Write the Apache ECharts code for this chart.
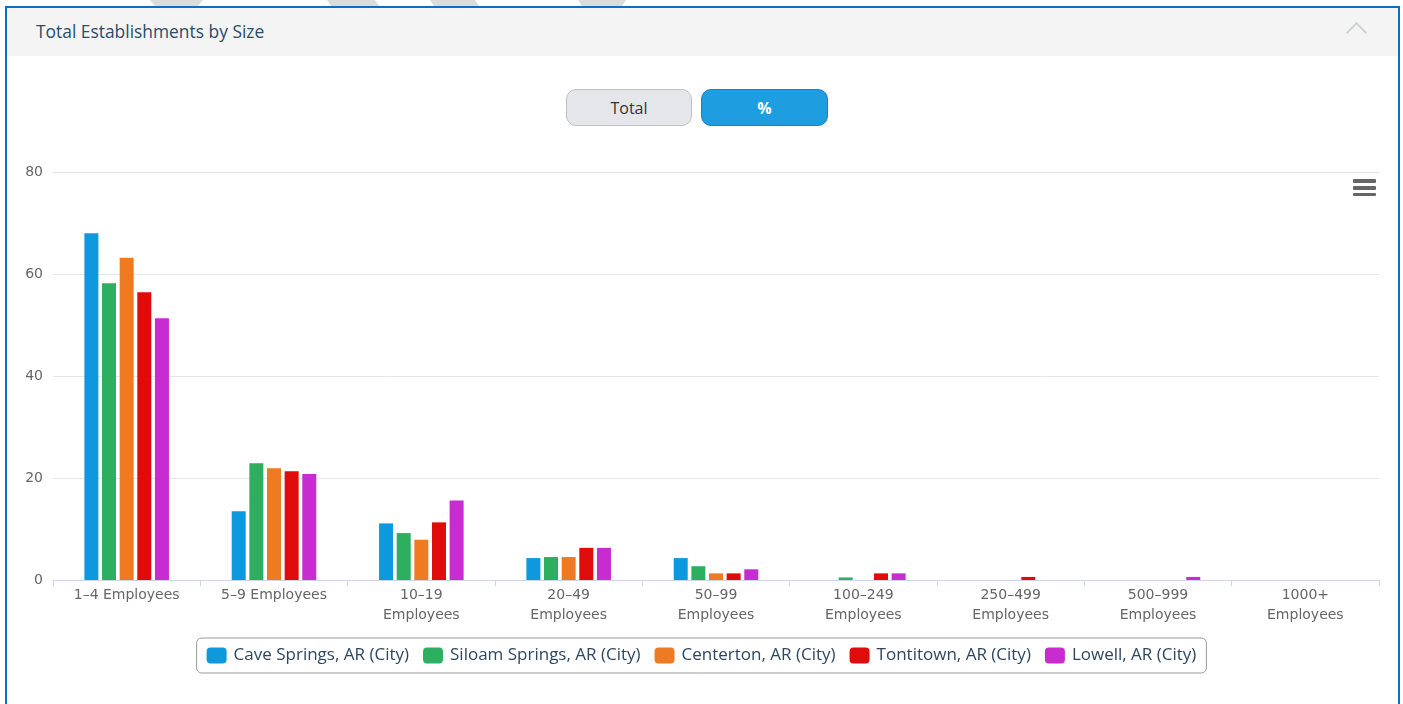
<!DOCTYPE html>
<html>
<head>
<meta charset="utf-8">
<script src="https://cdn.jsdelivr.net/npm/echarts@6/dist/echarts.min.js"></script>
<style>
  html, body { margin:0; padding:0; width:1403px; height:704px; background:#fff; overflow:hidden; }
  #frame { position:absolute; left:5px; top:6px; width:1395px; height:710px; border:2px solid #0b70c3; box-sizing:border-box; }
  #header { position:absolute; left:7px; top:8px; width:1391px; height:48px; background:#f4f4f4; }
  #title { position:absolute; left:36px; top:19px; font-family:"Open Sans", "Noto Sans", sans-serif; font-size:17.4px; color:#2b4c6a; }
  #chev { position:absolute; left:1349px; top:25px; width:13px; height:13px; border-left:2px solid #cfd2d5; border-top:2px solid #cfd2d5; transform:rotate(45deg); transform-origin:center; }
  .btn { position:absolute; top:89px; height:37px; box-sizing:border-box; border-radius:10px; font-family:"Open Sans", "Noto Sans", sans-serif; font-size:16px; text-align:center; line-height:36px; }
  #btnTotal { left:566px; width:126px; background:#e4e6e9; border:1px solid #bcc1c6; color:#333; }
  #btnPct { left:701px; width:127px; background:#1e9ee0; border:1px solid #1583c4; color:#fff; font-weight:bold; }
  .hb { position:absolute; left:1353px; width:23px; height:3.5px; background:#666; border-radius:1px; }
  #chart { position:absolute; left:0; top:0; width:1403px; height:704px; }
</style>
</head>
<body>
<svg width="1403" height="7" style="left:0;top:0;position:absolute">
  <polygon points="150,0 203,0 198,6 155,6" fill="#dcdcdc"/>
  <polygon points="327,0 375,0 379,6 331,6" fill="#dcdcdc"/>
  <polygon points="430,0 475,0 479,6 434,6" fill="#dcdcdc"/>
  <polygon points="578,0 626,0 622,6 582,6" fill="#dcdcdc"/>
</svg>
<div id="header"></div>
<div id="frame"></div>
<div id="title">Total Establishments by Size</div>
<div id="chev"></div>
<div id="chart"></div>
<div class="btn" id="btnTotal">Total</div>
<div class="btn" id="btnPct">%</div>
<div class="hb" style="top:179px"></div>
<div class="hb" style="top:186px"></div>
<div class="hb" style="top:192.5px"></div>
<script>
const categories = ["1–4 Employees", "5–9 Employees", "10–19 Employees", "20–49 Employees", "50–99 Employees", "100–249 Employees", "250–499 Employees", "500–999 Employees", "1000+ Employees"];
const seriesNames = ["Cave Springs, AR (City)", "Siloam Springs, AR (City)", "Centerton, AR (City)", "Tontitown, AR (City)", "Lowell, AR (City)"];
const caveSprings   = [68.0, 13.5, 11.1, 4.3, 4.3, 0,   0,   0,   0];
const siloamSprings = [58.2, 22.9, 9.2,  4.5, 2.7, 0.5, 0,   0,   0];
const centerton     = [63.2, 21.9, 7.9,  4.5, 1.3, 0,   0,   0,   0];
const tontitown     = [56.4, 21.3, 11.3, 6.3, 1.3, 1.3, 0.6, 0,   0];
const lowell        = [51.3, 20.8, 15.6, 6.3, 2.1, 1.3, 0,   0.6, 0];
const yTicks = [0, 20, 40, 60, 80];
const colors = ["#0e99df", "#2eae5f", "#ee7b22", "#e00b0b", "#c82bd0"];

const values = [caveSprings, siloamSprings, centerton, tontitown, lowell];
const chart = echarts.init(document.getElementById('chart'), null, {renderer:'canvas'});
chart.setOption({
  animation: false,
  color: colors,
  grid: { left: 53, right: 24, top: 172, bottom: 124 },
  xAxis: {
    type: 'category',
    data: categories,
    axisLine: { lineStyle: { color: '#ccd6eb', width: 1 } },
    axisTick: { show: true, length: 6, lineStyle: { color: '#ccd6eb' } },
    axisLabel: {
      interval: 0, color: '#666', fontFamily: '"DejaVu Sans", Verdana, sans-serif', fontSize: 14, lineHeight: 20, margin: 5,
      formatter: function (v) { return v.length > 13 ? v.replace(' ', '\n') : v; }
    }
  },
  yAxis: {
    type: 'value', min: yTicks[0], max: yTicks[yTicks.length - 1], interval: 20,
    axisLine: { show: false }, axisTick: { show: false },
    splitLine: { lineStyle: { color: '#e6e6e6' } },
    axisLabel: { color: '#666', fontFamily: '"DejaVu Sans", Verdana, sans-serif', fontSize: 14, margin: 10 }
  },
  legend: {
    left: 'center', top: 638,
    borderColor: '#999', borderWidth: 1, borderRadius: 5,
    padding: [9, 10, 9, 10],
    itemWidth: 20, itemHeight: 16, itemGap: 14, icon: 'roundRect',
    textStyle: { fontFamily: '"Open Sans", sans-serif', fontSize: 17, color: '#2d4762', padding: [0, 0, 0, 2] },
    data: seriesNames
  },
  series: seriesNames.map((n, i) => ({
    name: n, type: 'bar', data: values[i], barWidth: 14, barGap: '26%'
  }))
});
</script>
</body>
</html>
